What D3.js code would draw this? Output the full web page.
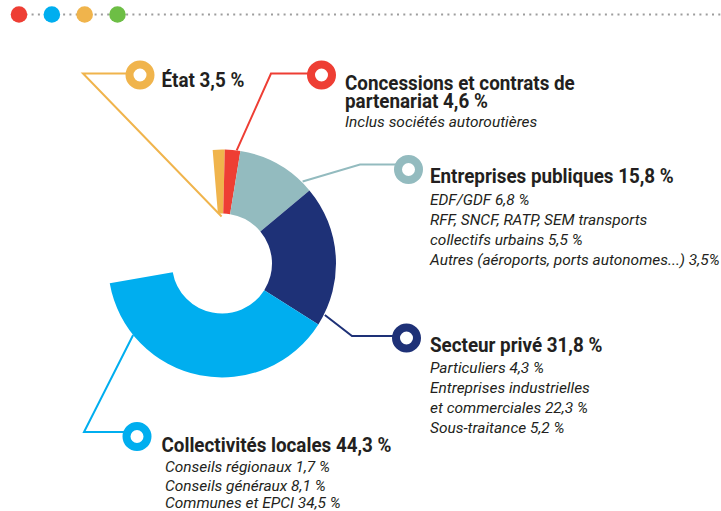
<!DOCTYPE html>
<html>
<head>
<meta charset="utf-8">
<script src="https://cdn.jsdelivr.net/npm/d3@7"></script>
<style>
  body { margin: 0; background: #fff; }
  .title { font-family: Roboto, "DejaVu Sans Condensed", sans-serif; font-weight: bold; font-size: 20px; fill: #231f20; }
  .sub { font-family: Roboto, "DejaVu Sans Condensed", sans-serif; font-style: italic; font-size: 15px; fill: #231f20; }
</style>
</head>
<body>
<div id="chart"></div>
<script>
// Data
var categories = ["État", "Concessions et contrats de\npartenariat", "Entreprises publiques", "Secteur privé", "Collectivités locales"];
var shares = [3.5, 4.6, 15.8, 31.8, 44.3];
// slice sizes as they are drawn in the graphic (degrees), not proportional to shares
var drawnSpans = [6.1, 7.9, 40.8, 72.2, 137.7];
var details = [
  [],
  ["Inclus sociétés autoroutières"],
  ["EDF/GDF 6,8 %", "RFF, SNCF, RATP, SEM transports", "collectifs urbains 5,5 %", "Autres (aéroports, ports autonomes...) 3,5%"],
  ["Particuliers 4,3 %", "Entreprises industrielles", "et commerciales 22,3 %", "Sous-traitance 5,2 %"],
  ["Conseils régionaux 1,7 %", "Conseils généraux 8,1 %", "Communes et EPCI 34,5 %"]
];
var colors = ["#f0b44c", "#ee3e34", "#93bbbf", "#1e3177", "#00aeef"];
var accentColors = ["#ee3e34", "#00aeef", "#f0b44c", "#6dbe45"];

var svgWidth = 721;
var svgHeight = 511;
var cx = 222, cy = 263.5;
var innerR = 50, outerR = 114;
var deg = Math.PI / 180;
// horizontal squeeze to get a condensed look
var titleSqueeze = 0.94, subSqueeze = 1.03;

var fr = d3.formatLocale({decimal: ",", thousands: " ", grouping: [3], currency: ["", " €"]});
var pct = fr.format(".1f");

// label layout: anchor on donut (angle deg, radius), elbow, ring, text
var layout = [
  {a: -0.5, r: 47, elbow: [83, 73.5], ring: [140, 75], tx: 161.5, ty: 86.5, lh: 18, sx: 161.5, sy: []},
  {a: 7.4, r: 114, elbow: [271, 73.5], ring: [321.5, 75], tx: 345, ty: 90, lh: 18, sx: 345, sy: [127]},
  {a: 44.5, r: 115, elbow: [360, 164.5], ring: [408.5, 169.5], tx: 430, ty: 183, lh: 20, sx: 430, sy: [205, 225, 245, 265]},
  {a: 116.6, r: 115, elbow: [352, 336], ring: [406.5, 338], tx: 430, ty: 352, lh: 20, sx: 430, sy: [373, 393, 413, 433]},
  {a: 231.2, r: 114, elbow: [84, 432], ring: [137, 436.5], tx: 161.5, ty: 452, lh: 20, sx: 165, sy: [472, 490.5, 508]}
];

function squeeze(sel, k) {
  sel.each(function() {
    var len = this.getComputedTextLength();
    d3.select(this)
        .attr("textLength", len * k)
        .attr("lengthAdjust", "spacingAndGlyphs");
  });
}

var svg = d3.select("#chart").append("svg")
    .attr("width", svgWidth)
    .attr("height", svgHeight);

// Top decoration
svg.append("line")
    .attr("x1", 19).attr("x2", svgWidth)
    .attr("y1", 14.5).attr("y2", 14.5)
    .attr("stroke", "#9d9d9d")
    .attr("stroke-width", 2)
    .attr("stroke-dasharray", "2 4.3");

var accentX = d3.scalePoint().domain(d3.range(accentColors.length)).range([19, 117.5]);
svg.selectAll(".accent")
    .data(accentColors)
    .enter()
    .append("circle")
    .attr("cx", (d, i) => accentX(i))
    .attr("cy", 14.5)
    .attr("r", 8.3)
    .attr("fill", d => d);

// Donut
var startA = -4.7 * deg;
var pie = d3.pie()
    .sort(null)
    .value(d => d)
    .startAngle(startA)
    .endAngle(startA + d3.sum(drawnSpans) * deg);

var arc = d3.arc().innerRadius(innerR).outerRadius(outerR);

var donut = svg.append("g").attr("transform", `translate(${cx}, ${cy})`);
donut.selectAll("path")
    .data(pie(drawnSpans))
    .enter()
    .append("path")
    .attr("d", arc)
    .attr("fill", (d, i) => colors[i]);

// Leader lines + rings + labels
categories.forEach(function(cat, i) {
  var L = layout[i];
  var ax = cx + L.r * Math.sin(L.a * deg);
  var ay = cy - L.r * Math.cos(L.a * deg);

  svg.append("polyline")
      .attr("points", [[ax, ay], L.elbow, [L.ring[0], L.elbow[1]]].map(p => p.join(",")).join(" "))
      .attr("fill", "none")
      .attr("stroke", colors[i])
      .attr("stroke-width", 2);

  svg.append("circle")
      .attr("cx", L.ring[0])
      .attr("cy", L.ring[1])
      .attr("r", 10.5)
      .attr("fill", "#fff")
      .attr("stroke", colors[i])
      .attr("stroke-width", 8);

  var lines = (cat + " " + pct(shares[i]) + " %").split("\n");
  lines.forEach(function(t, j) {
    svg.append("text")
        .attr("class", "title")
        .attr("x", L.tx)
        .attr("y", L.ty + j * L.lh)
        .text(t)
        .call(squeeze, titleSqueeze);
  });

  details[i].forEach(function(t, j) {
    svg.append("text")
        .attr("class", "sub")
        .attr("x", L.sx)
        .attr("y", L.sy[j])
        .text(t)
        .call(squeeze, subSqueeze);
  });
});
</script>
</body>
</html>
